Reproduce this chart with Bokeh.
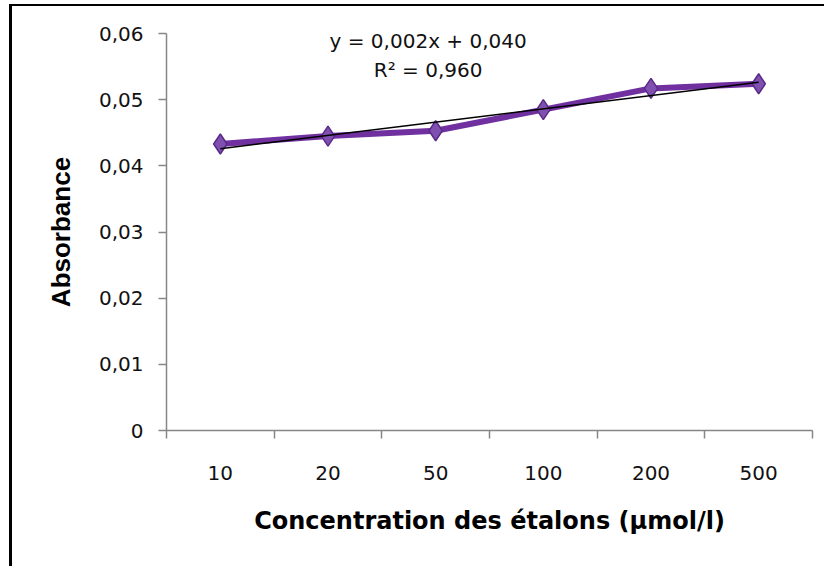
import numpy as np
from bokeh.plotting import figure
from bokeh.models import FixedTicker, CustomJSTickFormatter, Range1d, Label
from bokeh.embed import file_html
from bokeh.resources import INLINE

categories = ["10", "20", "50", "100", "200", "500"]
absorbance = [0.0433, 0.0445, 0.0453, 0.0485, 0.0517, 0.0524]
y_ticks = [0, 0.01, 0.02, 0.03, 0.04, 0.05, 0.06]
equation_text = "y = 0,002x + 0,040"
r2_text = "R² = 0,960"
x_title = "Concentration des étalons (µmol/l)"
y_title = "Absorbance"

xs = list(range(1, len(categories) + 1))

p = figure(width=815, height=562, output_backend="svg", toolbar_location=None,
           x_range=Range1d(0.5, len(categories) + 0.5), y_range=Range1d(0, 0.06),
           min_border_left=154, min_border_right=15, min_border_top=27, min_border_bottom=138)
p.styles = {"margin-left": "9px", "margin-top": "4px",
            "border-left": "3px solid black", "border-top": "2px solid black"}
p.background_fill_color = "white"
p.border_fill_color = "white"
p.outline_line_color = None
p.xgrid.visible = False
p.ygrid.visible = False

axis_col = "#878787"
font = "DejaVu Sans"
tick_size = "20px"

# x axis
p.xaxis.ticker = FixedTicker(ticks=xs, minor_ticks=[x - 0.5 for x in xs] + [len(xs) + 0.5])
p.xaxis.major_label_overrides = {x: c for x, c in zip(xs, categories)}
p.xaxis.major_tick_line_color = None
p.xaxis.minor_tick_out = 8
p.xaxis.minor_tick_in = 0
p.xaxis.minor_tick_line_color = axis_col
p.xaxis.minor_tick_line_width = 1.5
p.xaxis.axis_line_color = axis_col
p.xaxis.axis_line_width = 1.5
p.xaxis.major_label_standoff = 27
p.xaxis.major_label_text_font = font
p.xaxis.major_label_text_font_size = tick_size
p.xaxis.major_label_text_color = "#111111"
p.xaxis.axis_label = x_title
p.xaxis.axis_label_text_font = font
p.xaxis.axis_label_text_font_style = "bold"
p.xaxis.axis_label_text_font_size = "24px"
p.xaxis.axis_label_text_color = "black"
p.xaxis.axis_label_standoff = 24

# y axis
p.yaxis.ticker = FixedTicker(ticks=y_ticks)
p.yaxis.formatter = CustomJSTickFormatter(code="return tick == 0 ? '0' : tick.toFixed(2).replace('.', ',');")
p.yaxis.major_tick_out = 8
p.yaxis.major_tick_in = 0
p.yaxis.minor_tick_line_color = None
p.yaxis.major_tick_line_color = axis_col
p.yaxis.major_tick_line_width = 1.5
p.yaxis.axis_line_color = axis_col
p.yaxis.axis_line_width = 1.5
p.yaxis.major_label_standoff = 15
p.yaxis.major_label_text_font = font
p.yaxis.major_label_text_font_size = tick_size
p.yaxis.major_label_text_color = "#111111"
p.yaxis.axis_label = y_title
p.yaxis.axis_label_text_font = "Liberation Sans"
p.yaxis.axis_label_text_font_style = "bold"
p.yaxis.axis_label_text_font_size = "26px"
p.yaxis.axis_label_text_color = "black"
p.yaxis.axis_label_standoff = 20

# series
p.line(xs, absorbance, line_color="#7030A0", line_width=6)
p.scatter(xs, absorbance, marker="diamond", size=20, fill_color="#8050B0",
          line_color="#5A2A88", line_width=1.5)

# linear trendline
slope, intercept = np.polyfit(xs, absorbance, 1)
tx = [xs[0], xs[-1]]
ty = [slope * t + intercept for t in tx]
p.line(tx, ty, line_color="black", line_width=1.5)

p.add_layout(Label(x=2.93, y=0.0588, text=equation_text, text_align="center",
                   text_baseline="middle", text_font=font, text_font_size="20px",
                   text_color="#111111"))
p.add_layout(Label(x=2.93, y=0.0545, text=r2_text, text_align="center",
                   text_baseline="middle", text_font=font, text_font_size="20px",
                   text_color="#111111"))

open("out.html", "w").write(file_html(p, INLINE))
